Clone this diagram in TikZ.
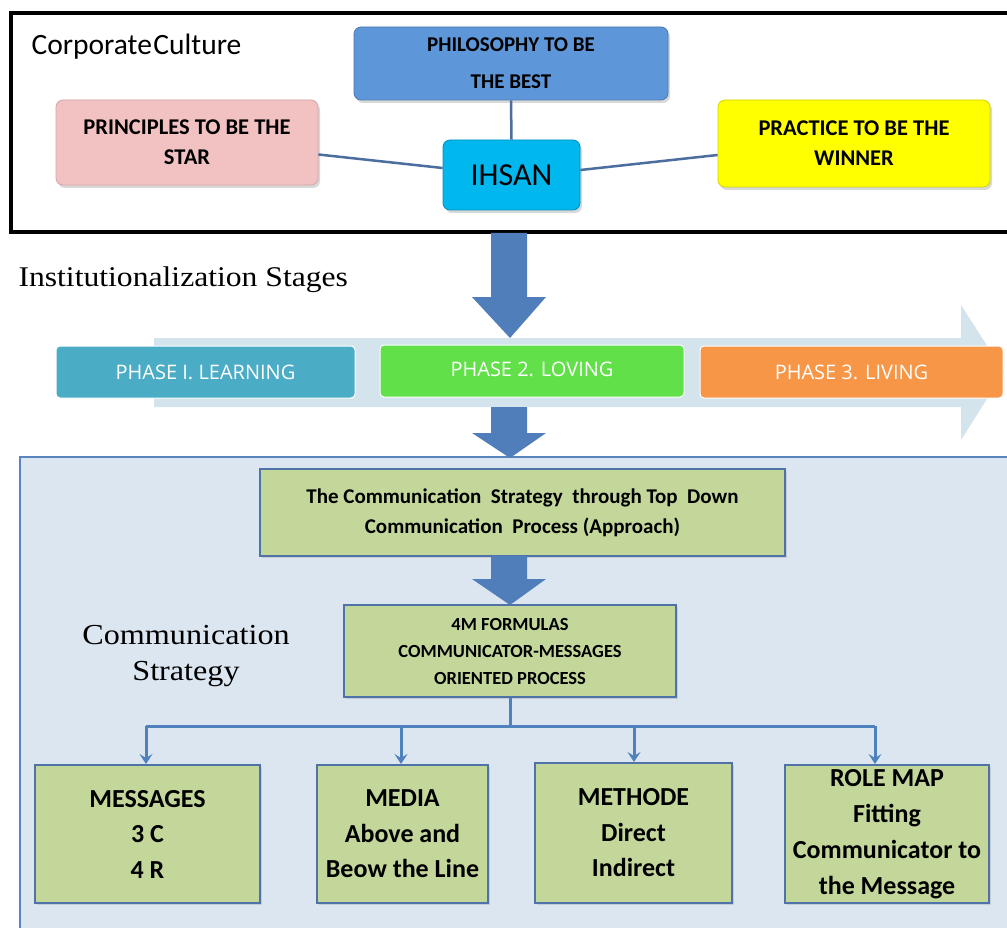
\documentclass[tikz,border=0pt]{standalone}
\usepackage{fontspec}
\setmainfont{Liberation Serif}
\newfontfamily\widetimes[FakeStretch=1.11]{Liberation Serif}
\newfontfamily\calfont{Carlito}
\newfontfamily\opfont{Open Sans}
\usetikzlibrary{arrows.meta,shadows}
\definecolor{philblue}{HTML}{5E97D9}
\definecolor{pinkfill}{HTML}{F2C2C2}
\definecolor{pinkdraw}{HTML}{D6A4A4}
\definecolor{ihsanfill}{HTML}{00B7EE}
\definecolor{yellowfill}{HTML}{FFFF00}
\definecolor{yellowdraw}{HTML}{D4D400}
\definecolor{linkblue}{HTML}{4A6E9E}
\definecolor{arrowblue}{HTML}{4F7EBA}
\definecolor{lightarrow}{HTML}{D3E4EC}
\definecolor{phaseone}{HTML}{4BACC6}
\definecolor{phasetwo}{HTML}{62E04A}
\definecolor{phasethree}{HTML}{F79646}
\definecolor{panelfill}{HTML}{DCE6F1}
\definecolor{panelblue}{HTML}{5A84BE}
\definecolor{boxgreen}{HTML}{C4D79B}
\definecolor{boxblue}{HTML}{4F72A8}
\definecolor{treeblue}{HTML}{4F81BD}
\tikzset{
  topbox/.style={rounded corners=7pt, line width=0.8pt, inner sep=0pt, align=center,
    drop shadow={shadow xshift=2pt, shadow yshift=-3pt, opacity=0.3}},
  phasebox/.style={rounded corners=4pt, draw=white, line width=1pt, inner sep=0pt,
    text=white, minimum height=52pt, font=\opfont\fontsize{20}{22}\selectfont},
  gbox/.style={draw=boxblue, line width=2pt, fill=boxgreen, inner sep=0pt, align=center,
    drop shadow={shadow xshift=1.5pt, shadow yshift=-1.5pt, opacity=0.25}},
  linkline/.style={draw=linkblue, line width=2.5pt},
  treeline/.style={draw=treeblue, line width=3pt},
  treearrow/.style={treeline, -{Stealth[length=10pt,width=13pt,inset=4pt]}},
  blockarrow/.style={fill=arrowblue, draw=none},
  bottomtext/.style={font=\calfont\bfseries\fontsize{26}{35.5}\selectfont}
}
\begin{document}
\begin{tikzpicture}[x=1pt,y=-1pt]
\useasboundingbox (0,0) rectangle (1007,928);
\fill[white] (0,0) rectangle (1007,928);

% ---------- corporate culture frame ----------
\draw[line width=3.5pt] (11,13) rectangle (1030,232);
\node[anchor=west, font=\calfont\fontsize{29.5}{32}\selectfont] (cc) at (28,47) {Corporate\hspace{1.5pt}Culture};

\node[topbox, fill=philblue, draw=philblue!80!black, minimum width=314pt, minimum height=73pt,
  font=\calfont\bfseries\fontsize{21}{37}\selectfont] (phil) at (511,63.5) {PHILOSOPHY TO BE\\THE BEST};
\node[topbox, fill=pinkfill, draw=pinkdraw, minimum width=262pt, minimum height=85pt,
  font=\calfont\bfseries\fontsize{22.5}{30}\selectfont] (princ) at (187,142.5) {PRINCIPLES TO BE THE\\STAR};
\node[topbox, fill=ihsanfill, draw=ihsanfill!80!black, minimum width=137pt, minimum height=70pt,
  font=\calfont\fontsize{32}{34}\selectfont] (ihsan) at (511.5,175) {IHSAN};
\node[topbox, fill=yellowfill, draw=yellowdraw, minimum width=272pt, minimum height=87pt,
  font=\calfont\bfseries\fontsize{22.5}{30}\selectfont] (pract) at (854,143.5) {PRACTICE TO BE THE\\WINNER};

\draw[linkline] (phil.south) -- (ihsan.north);
\draw[linkline] ([yshift=-12pt]princ.east) -- ([yshift=7pt]ihsan.west);
\draw[linkline] ([yshift=5pt]ihsan.east) -- ([yshift=-11.5pt]pract.west);

% ---------- institutionalization stages ----------
\node[anchor=west, font=\widetimes\fontsize{28.5}{30}\selectfont] (inst) at (15,280) {Institutionalization Stages};

\fill[lightarrow] (154,338) -- (961,338) -- (961,305) -- (1004,372) -- (961,440) -- (961,407) -- (154,407) -- cycle;

\node[phasebox, fill=phaseone, minimum width=299pt] (p1) at (205.5,372) {PHASE I. LEARNING};
\node[phasebox, fill=phasetwo, minimum width=304pt] (p2) at (532,371) {\raisebox{3pt}{PHASE 2. LOVING}};
\node[phasebox, fill=phasethree, minimum width=303pt] (p3) at (851.5,372) {PHASE 3. LIVING};

\fill[blockarrow] (491,233) -- (527,233) -- (527,297) -- (546,297) -- (510,338) -- (472,297) -- (491,297) -- cycle;

% ---------- communication strategy panel ----------
\draw[fill=panelfill, draw=panelblue, line width=2pt] (20,457) rectangle (1030,945);

\fill[blockarrow] (491,407) -- (527,407) -- (527,433) -- (546,433) -- (510,458) -- (472,433) -- (491,433) -- cycle;

\node[gbox, minimum width=525pt, minimum height=87pt,
  font=\calfont\bfseries\fontsize{21}{30}\selectfont] (cs) at (522.5,512.5)
  {The Communication\ \ Strategy\ \ through Top\ \ Down\\Communication\ \ Process (Approach)};

\fill[blockarrow] (491,556) -- (527,556) -- (527,579) -- (546,579) -- (510,605) -- (472,579) -- (491,579) -- cycle;

\node[gbox, minimum width=332pt, minimum height=92pt,
  font=\calfont\bfseries\fontsize{18.5}{27}\selectfont] (fm) at (510,651)
  {4M FORMULAS\\COMMUNICATOR-MESSAGES\\ORIENTED PROCESS};

\node[align=center, font=\widetimes\fontsize{29}{36}\selectfont] (cslabel) at (186,656) {Communication\\Strategy};

\node[gbox, minimum width=225pt, minimum height=138pt, bottomtext] (b1) at (147.5,834) {MESSAGES\\3 C\\4 R};
\node[gbox, minimum width=171pt, minimum height=138pt, bottomtext] (b2) at (402.5,834) {MEDIA\\Above and\\Beow the Line};
\node[gbox, minimum width=197pt, minimum height=140pt, bottomtext] (b3) at (633.5,833) {METHODE\\Direct\\Indirect};
\node[gbox, minimum width=204pt, minimum height=138pt, bottomtext, font=\calfont\bfseries\fontsize{26}{36}\selectfont] (b4) at (887,834) {ROLE MAP\\Fitting\\Communicator to\\the Message};

\coordinate (fork) at (510,726);
\coordinate (t1) at (146,726);
\coordinate (t2) at (401,726);
\coordinate (t3) at (634,726);
\coordinate (t4) at (875,726);
\draw[treeline] (fm.south) -- (fork);
\draw[treeline] (t1) -- (t4);
\draw[treearrow] (t1) -- (t1 |- b1.north);
\draw[treearrow] (t2) -- (t2 |- b2.north);
\draw[treearrow] (t3) -- (t3 |- b3.north);
\draw[treearrow] (t4) -- (t4 |- b4.north);
\end{tikzpicture}
\end{document}
